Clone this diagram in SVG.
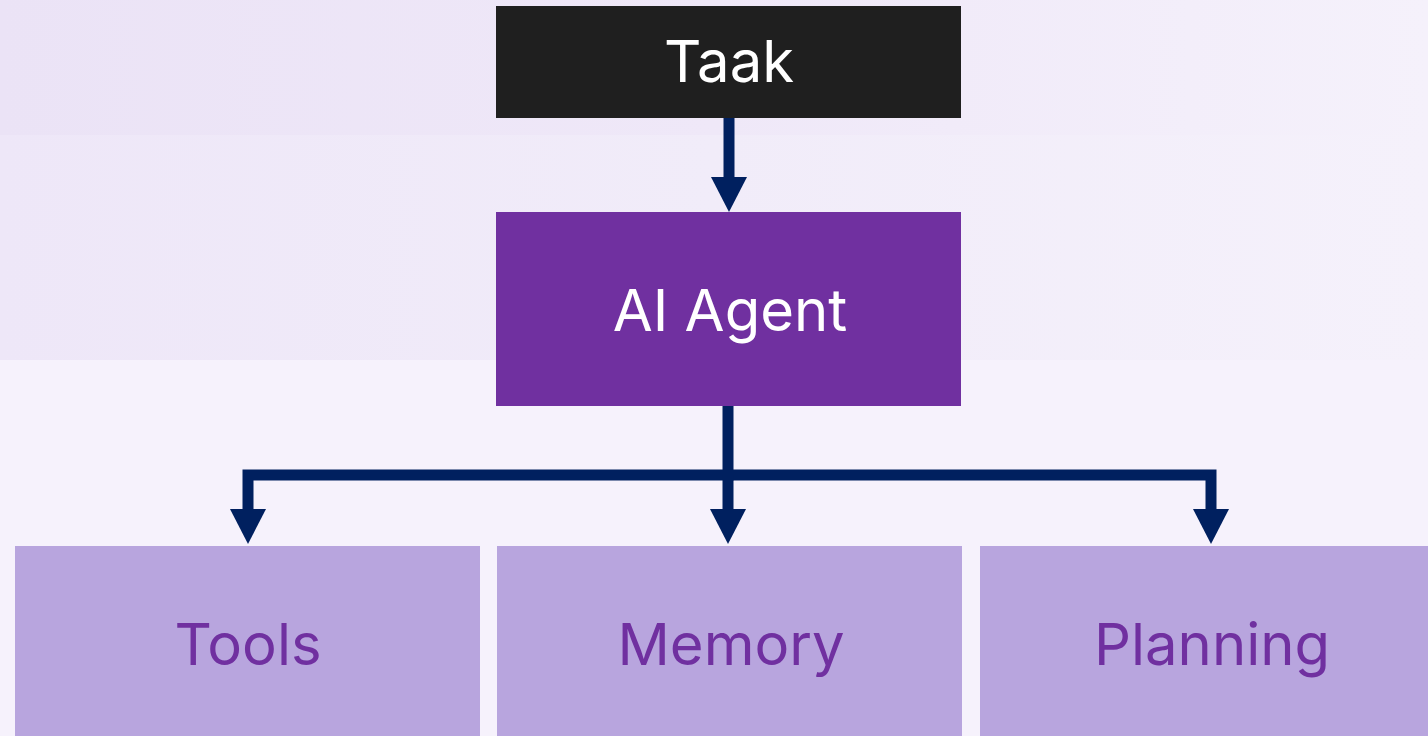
<svg xmlns="http://www.w3.org/2000/svg" width="1428" height="736" viewBox="0 0 1428 736">
<defs>
<linearGradient id="bgTop" x1="0" y1="0" x2="1" y2="0">
<stop offset="0" stop-color="#ebe3f6"/><stop offset="0.5" stop-color="#efe8f8"/><stop offset="1" stop-color="#f5f1fb"/>
</linearGradient>
<linearGradient id="bgMid" x1="0" y1="0" x2="1" y2="0">
<stop offset="0" stop-color="#eee7f8"/><stop offset="0.5" stop-color="#f1ecf9"/><stop offset="1" stop-color="#f5f1fb"/>
</linearGradient>
<marker id="ah" markerUnits="userSpaceOnUse" markerWidth="36" markerHeight="36" refX="0" refY="18" orient="auto" viewBox="0 0 36 36">
<path d="M0,0 L35,18 L0,36 Z" fill="#00205f"/>
</marker>
<style>
.conn{fill:none;stroke:#00205f;stroke-width:11;stroke-linejoin:miter}
.lbl{font-family:Inter,"Liberation Sans",sans-serif;font-size:58px;text-anchor:middle}
.dark{fill:#1f1f1f}
.main{fill:#7030a0}
.sub{fill:#b8a5de}
.w{fill:#ffffff}
.p{fill:#7030a0}
</style>
</defs>
<rect width="1428" height="736" fill="#f6f2fc"/>
<rect x="0" y="0" width="1428" height="135" fill="url(#bgTop)"/>
<rect x="0" y="135" width="1428" height="225" fill="url(#bgMid)"/>
<g id="connectors">
<path class="conn" d="M729 118 V177" marker-end="url(#ah)"/>
<path class="conn" d="M728 406 V475 H248 V509" marker-end="url(#ah)"/>
<path class="conn" d="M728 475 H1211 V509" marker-end="url(#ah)"/>
<path class="conn" d="M728 475 V509" marker-end="url(#ah)"/>
</g>
<g id="taak">
<rect class="dark" x="496" y="6" width="465" height="112"/>
<text class="lbl w" x="729" y="82">Taak</text>
</g>
<g id="agent">
<rect class="main" x="496" y="212" width="465" height="194"/>
<text class="lbl w" x="730" y="331">AI Agent</text>
</g>
<g id="tools">
<rect class="sub" x="15" y="546" width="465" height="190"/>
<text class="lbl p" x="248" y="665">Tools</text>
</g>
<g id="memory">
<rect class="sub" x="497" y="546" width="465" height="190"/>
<text class="lbl p" x="731" y="665">Memory</text>
</g>
<g id="planning">
<rect class="sub" x="980" y="546" width="448" height="190"/>
<text class="lbl p" x="1212" y="665">Planning</text>
</g>
</svg>
